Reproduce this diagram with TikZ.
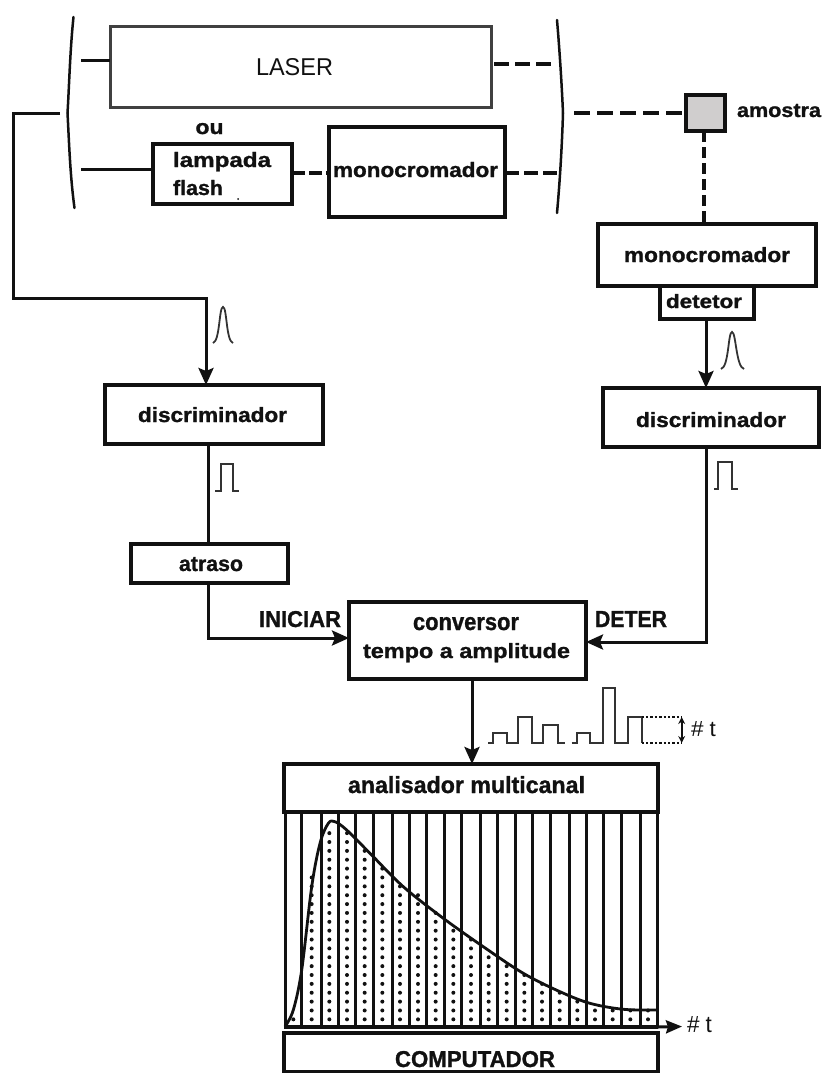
\documentclass[tikz,border=0pt]{standalone}
\usepackage{fontspec}
\usepackage{graphicx}
\setmainfont[BoldFeatures={FakeBold=1.2}]{Liberation Sans}
\usetikzlibrary{arrows.meta,calc}
\definecolor{ink}{HTML}{111111}
\definecolor{sample}{HTML}{D0CECE}
\newcommand{\Tb}[3]{\resizebox{#1pt}{#2pt}{\bfseries #3}}
\newcommand{\Tr}[3]{\resizebox{#1pt}{#2pt}{#3}}
\tikzset{
 x=1pt,y=-1pt,
 bx/.style={draw=ink,line width=3.1pt,rectangle,inner sep=0pt,outer sep=0pt},
 lbl/.style={anchor=base west,inner sep=0pt,outer sep=0pt,text=ink},
 wire/.style={draw=ink,line width=3pt},
 arrowed/.style={wire,-{Stealth[length=17pt,width=15pt,inset=3pt]}},
 dashwire/.style={draw=ink,line width=3.2pt,dash pattern=on 15pt off 6pt},
 brc/.style={draw=ink,line width=2.5pt,line cap=round},
 pulse/.style={draw=black!80,line width=1.8pt},
 chan/.style={draw=ink,line width=3pt},
}
\begin{document}
\begin{tikzpicture}
\useasboundingbox (0,0) rectangle (824,1073);
% boxes
\node[bx,draw=black!75,line width=3pt,minimum width=381pt,minimum height=80pt] (laser) at (300.5,67) {};
\node[bx,minimum width=139pt,minimum height=60pt] (lamp) at (222.5,174) {};
\node[bx,minimum width=176pt,minimum height=90pt] (monoa) at (417,172) {};
\node[bx,fill=sample,minimum width=39pt,minimum height=36pt] (sam) at (705.5,113) {};
\node[bx,minimum width=218pt,minimum height=62pt] (monob) at (707,255) {};
\node[bx,minimum width=94pt,minimum height=33pt] (det) at (707,302.5) {};
\node[bx,minimum width=218pt,minimum height=59pt] (discl) at (214,414.5) {};
\node[bx,minimum width=216pt,minimum height=59pt] (discr) at (711,417.5) {};
\node[bx,minimum width=157pt,minimum height=39pt] (atr) at (209.5,563.5) {};
\node[bx,minimum width=237pt,minimum height=77pt] (conv) at (467.5,640.5) {};
\node[bx,minimum width=374pt,minimum height=48pt] (ana) at (471,788) {};
\node[bx,minimum width=374pt,minimum height=39pt] (comp) at (471,1052.5) {};
% histogram
\foreach \cx/\n in {70/0,125/16,178/21,231/21,284/19,337/17,390/15,444/14,497/12,550/10,603/9,656/7,710/6,763/5,816/4,869/3,922/2,975/1,1028/1,1081/1,1134/1}
  \foreach \k in {0,...,\n}
    \fill[ink] ({270+\cx/3},{660+(1078-26.6*\k)/3}) circle (2pt);
\foreach \v in {45,95,153,204,257,309,367,418,470,522,575,632,683,735,787,840,898,949,1001,1053,1110,1162}
  \draw[chan] ({270+\v/3},812) -- ({270+\v/3},1027);
\coordinate (axl) at (284,1027);
\coordinate (axe) at (682,1026.5);
\draw[draw=ink,line width=3.6pt] (axl) -- (axl-|comp.east);
\draw[wire,-{Stealth[length=16pt,width=13pt,inset=2pt]}] (axl-|comp.east) -- (axe);
\draw[draw=ink,line width=2.8pt,line join=round] plot[smooth,tension=0.55] coordinates {(285,1026.7) (293.3,1010) (301.7,970) (311.7,886.7) (320,843.3) (328.3,823.3) (335,821.7) (346.7,830) (370,853.3) (403.3,886.7) (443.3,918.3) (483.3,946.7) (523.3,973.3) (560,991.7) (590,1003.3) (623.3,1009.3) (656.7,1010)};
% braces
\draw[brc] (73.5,17) .. controls (70,50) and (69,90) .. (67.5,113) .. controls (69,140) and (70,175) .. (74.5,208);
\draw[brc] (557,20) .. controls (560,55) and (562,90) .. (563,113) .. controls (562,145) and (560,180) .. (557,213);
% connectors top
\coordinate (la) at (81,61);
\draw[wire] (la) -- (la-|laser.west);
\coordinate (lb) at (81,169);
\draw[wire] (lb) -- (lb-|lamp.west);
\coordinate (ra) at (494,64);
\coordinate (rae) at (552,64);
\draw[dashwire] (ra) -- (rae);
\coordinate (lm) at (292,173);
\draw[dashwire,dash pattern=on 13pt off 4pt] (lm) -- (lm-|monoa.west);
\coordinate (rb) at (505,173);
\coordinate (rbe) at (557,173);
\draw[dashwire,dash pattern=on 14pt off 5pt] (rb) -- (rbe);
\coordinate (bm) at (574,113);
\draw[dashwire,dash pattern=on 16pt off 7pt] (bm) -- (sam.west);
\coordinate (sb) at (704,131);
\draw[dashwire,dash pattern=on 11pt off 5pt] (sb) -- (sb|-monob.north);
% trigger line
\coordinate (tr) at (60,113);
\coordinate (tra) at (13,113);
\coordinate (trb) at (13,298);
\coordinate (trc) at (206,298);
\draw[arrowed] (tr) -- (tra) -- (trb) -- (trc) -- (trc|-discl.north);
\coordinate (lv) at (208,444);
\draw[wire] (lv) -- (lv|-atr.north);
\coordinate (ini) at (208,638);
\draw[arrowed] (ini|-atr.south) -- (ini) -- (ini-|conv.west);
\coordinate (rv) at (706,319);
\draw[arrowed] (rv) -- (rv|-discr.north);
\coordinate (det2) at (706,642);
\draw[arrowed] (det2|-discr.south) -- (det2) -- (det2-|conv.east);
\coordinate (cv) at (472,679);
\draw[arrowed] (cv) -- (cv|-ana.north);
% pulses
\draw[pulse] (213,343) .. controls (220,341) and (219,307) .. (223,307) .. controls (227,307) and (226,341) .. (233,343);
\draw[pulse] (721,369) .. controls (729,367) and (728,332) .. (732,332) .. controls (736,332) and (736,367) .. (744,369);
\draw[pulse] (215,491) -- (221,491) -- (221,464) -- (233,464) -- (233,491) -- (239,491);
\draw[pulse] (714,489) -- (718,489) -- (718,462) -- (732,462) -- (732,489) -- (738,489);
\draw[pulse] ({270+655/3},743) -- ({270+670/3},743) -- ({270+670/3},733) -- ({270+710/3},733) -- ({270+710/3},743) -- ({270+745/3},743) -- ({270+745/3},717) -- ({270+785/3},717) -- ({270+785/3},743) -- ({270+820/3},743) -- ({270+820/3},725) -- ({270+865/3},725) -- ({270+865/3},743) -- ({270+885/3},743);
\draw[pulse] ({270+905/3},743) -- ({270+920/3},743) -- ({270+920/3},733) -- ({270+960/3},733) -- ({270+960/3},743) -- ({270+1000/3},743) -- ({270+1000/3},688) -- ({270+1035/3},688) -- ({270+1035/3},743) -- ({270+1075/3},743) -- ({270+1075/3},717) -- ({270+1115/3},717) -- ({270+1115/3},743);
\coordinate (dta) at ({270+1115/3},717);
\coordinate (dtb) at ({270+1115/3},743);
\coordinate (dtc) at ({270+1235/3},717);
\coordinate (dtd) at ({270+1235/3},743);
\draw[draw=ink,line width=2.6pt,dash pattern=on 2.4pt off 2pt] (dta) -- (dtc);
\draw[draw=ink,line width=2.6pt,dash pattern=on 2.4pt off 2pt] (dtb) -- (dtd);
\draw[draw=ink,line width=1.8pt,{Stealth[length=7pt,width=7pt]}-{Stealth[length=7pt,width=7pt]}] (dtc) -- (dtd);
% speck
\fill[ink] (238,199) circle (1pt);
% labels
\node[lbl] (tlaser) at (256,75) {\Tr{77}{17}{LASER}};
\node[lbl] (tou) at (195.5,134) {\Tb{28}{11}{ou}};
\node[lbl] (tlamp) at (173,167) {\Tb{98}{15}{lampada}};
\node[lbl] (tflash) at (173,195) {\Tb{50}{15}{flash}};
\node[lbl] (tmonoa) at (333,177) {\Tb{165}{15}{monocromador}};
\node[lbl] (tmonob) at (624,262) {\Tb{166}{15}{monocromador}};
\node[lbl] (tdet) at (666,308) {\Tb{76}{14}{detetor}};
\node[lbl] (tsam) at (737,117) {\Tb{84}{13}{amostra}};
\node[lbl] (tdl) at (138,422) {\Tb{149}{15}{discriminador}};
\node[lbl] (tdr) at (636,427) {\Tb{150}{15}{discriminador}};
\node[lbl] (tatr) at (179,571) {\Tb{64}{14}{atraso}};
\node[lbl] (tini) at (259,627) {\Tb{82}{16}{INICIAR}};
\node[lbl] (tdeter) at (595,627) {\Tb{72}{16}{DETER}};
\node[lbl] (tconv) at (413,630) {\Tb{106}{13}{conversor}};
\node[lbl] (ttempo) at (363,658) {\Tb{207}{15}{tempo a amplitude}};
\node[lbl] (tana) at (348,793) {\Tb{237}{17}{analisador multicanal}};
\node[lbl] (tcomp) at (395,1067) {\Tb{160}{16}{COMPUTADOR}};
\node[lbl] (tta) at (691,736) {\Tr{25}{15}{\# t}};
\node[lbl] (ttb) at (687,1032) {\Tr{25}{16}{\# t}};
\end{tikzpicture}
\end{document}
